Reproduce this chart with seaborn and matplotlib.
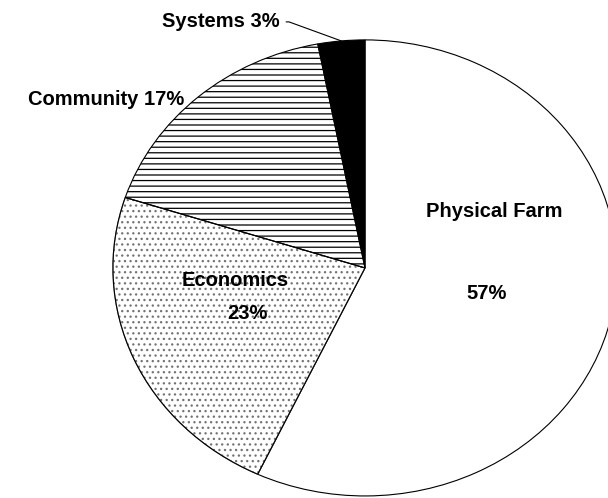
import numpy as np
import matplotlib
matplotlib.use("Agg")
import matplotlib.pyplot as plt
from matplotlib.patches import Wedge
import seaborn as sns

# shares of the pie, clockwise from 12 o'clock
categories = ["Physical Farm", "Economics", "Community", "Systems"]
shares = [57, 23, 17, 3]
fills = ["white", "white", "white", "black"]
hatches = ["", "...", "---", ""]
hatch_colors = ["black", "0.45", "black", "black"]

sns.set_theme(style="white")
plt.rcParams["font.family"] = ["Liberation Sans", "DejaVu Sans"]
plt.rcParams["hatch.linewidth"] = 0.9

fig = plt.figure(figsize=(6.08, 4.98), dpi=100)
ax = fig.add_axes([0, 0, 1, 1])

wedges, _ = ax.pie(shares, startangle=90, counterclock=False, colors=fills,
                   wedgeprops=dict(edgecolor="black", linewidth=0.8))
for w, h, hc in zip(wedges, hatches, hatch_colors):
    w.set_hatch(h)
    if hc != "black":
        # lighter hatch, keep a black outline on top
        w.set_edgecolor(hc)
        ax.add_patch(Wedge(w.center, w.r, w.theta1, w.theta2, fill=False,
                           edgecolor="black", linewidth=0.8))

# the original pie is slightly squashed and runs off the right/bottom edge
ax.set_aspect("auto")
ax.set_xlim(-1.448, 0.964)
ax.set_ylim(-1.009, 1.175)
ax.axis("off")

fs = 14.5
kw = dict(fontsize=fs, fontweight="bold", color="black")
labels = [f"{c} {s}%" for c, s in zip(categories, shares)]

# big slices: name and percentage inside
ax.text(0.512, 0.246, categories[0], ha="center", va="center", **kw)
ax.text(0.484, -0.110, f"{shares[0]}%", ha="center", va="center", **kw)
ax.text(-0.516, -0.057, categories[1], ha="center", va="center", **kw)
ax.text(-0.468, -0.202, f"{shares[1]}%", ha="center", va="center", **kw)

# small slices: outside
ax.text(-0.718, 0.737, labels[2], ha="right", va="center", **kw)

w = wedges[3]
mid = np.deg2rad((w.theta1 + w.theta2) / 2)
ax.annotate(labels[3], xy=(np.cos(mid), np.sin(mid)), xytext=(-0.337, 1.079),
            ha="right", va="center", **kw,
            arrowprops=dict(arrowstyle="-", color="black", lw=0.8,
                            shrinkA=2, shrinkB=0,
                            connectionstyle="angle,angleA=0,angleB=-20,rad=0"))

fig.savefig("out.png", dpi=100, facecolor="white")
